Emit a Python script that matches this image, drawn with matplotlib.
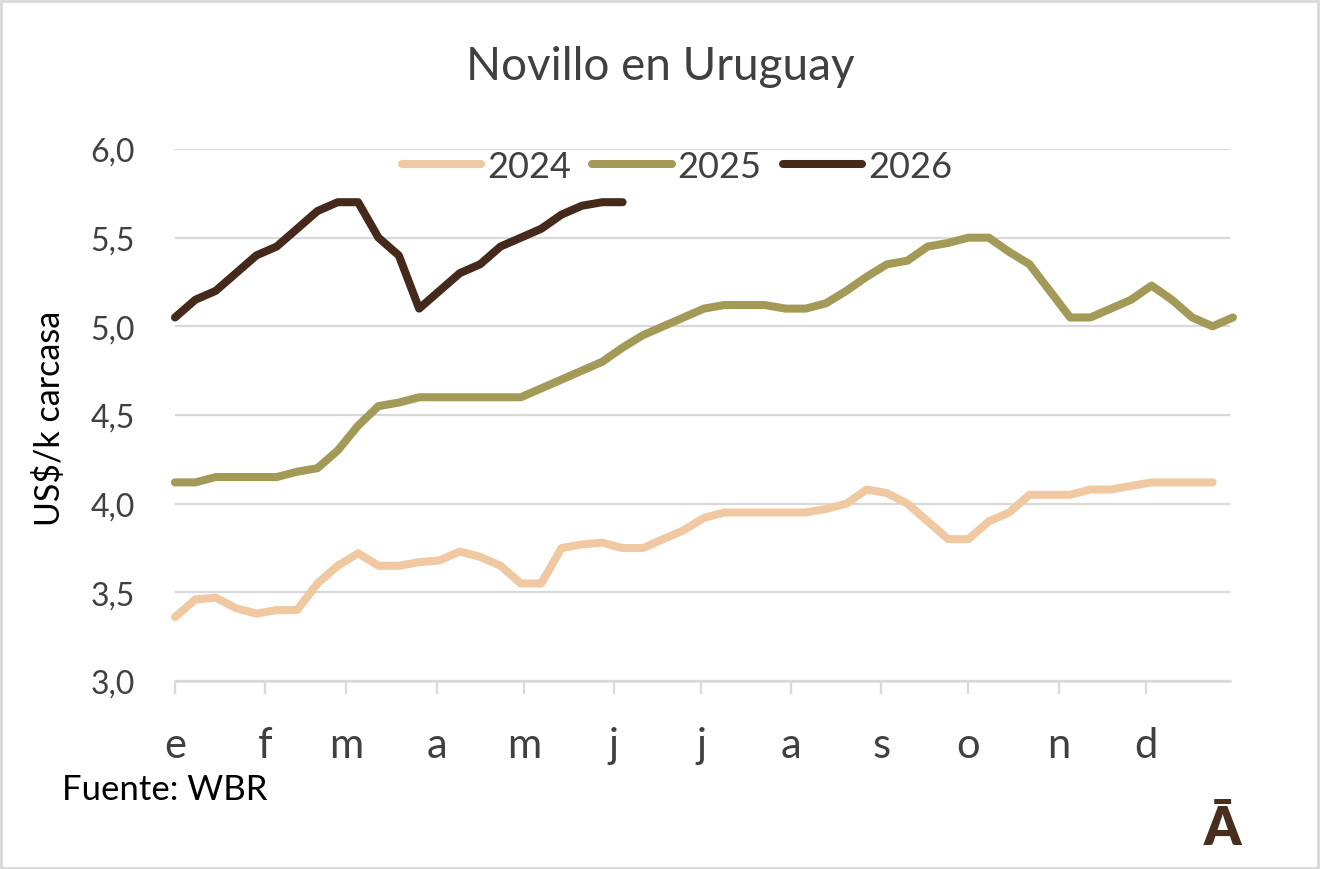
import numpy as np
import matplotlib
matplotlib.use("Agg")
import matplotlib.pyplot as plt
from matplotlib.patches import Rectangle

plt.rcParams['font.family'] = ['Lato', 'DejaVu Sans']

# ---- data ----
month_labels = ['e', 'f', 'm', 'a', 'm', 'j', 'j', 'a', 's', 'o', 'n', 'd']
month_start_day = [0, 31, 59, 90, 120, 151, 181, 212, 243, 273, 304, 334]

v2024 = [3.36, 3.46, 3.47, 3.41, 3.38, 3.40, 3.40, 3.55, 3.65, 3.72,
         3.65, 3.65, 3.67, 3.68, 3.73, 3.70, 3.65, 3.55, 3.55, 3.75,
         3.77, 3.78, 3.75, 3.75, 3.80, 3.85, 3.92, 3.95, 3.95, 3.95,
         3.95, 3.95, 3.97, 4.00, 4.08, 4.06, 4.00, 3.90, 3.80, 3.80,
         3.90, 3.95, 4.05, 4.05, 4.05, 4.08, 4.08, 4.10, 4.12, 4.12,
         4.12, 4.12]
v2025 = [4.12, 4.12, 4.15, 4.15, 4.15, 4.15, 4.18, 4.20, 4.30, 4.44,
         4.55, 4.57, 4.60, 4.60, 4.60, 4.60, 4.60, 4.60, 4.65, 4.70,
         4.75, 4.80, 4.88, 4.95, 5.00, 5.05, 5.10, 5.12, 5.12, 5.12,
         5.10, 5.10, 5.13, 5.20, 5.28, 5.35, 5.37, 5.45, 5.47, 5.50,
         5.50, 5.42, 5.35, 5.20, 5.05, 5.05, 5.10, 5.15, 5.23, 5.15,
         5.05, 5.00, 5.05]
v2026 = [5.05, 5.15, 5.20, 5.30, 5.40, 5.45, 5.55, 5.65, 5.70, 5.70,
         5.50, 5.40, 5.10, 5.20, 5.30, 5.35, 5.45, 5.50, 5.55, 5.63,
         5.68, 5.70, 5.70]
series_names = ['2024', '2025', '2026']
series_values = [v2024, v2025, v2026]
series_colors = ['#F0C9A2', '#A39A57', '#45291A']
y_ticks = [3.0, 3.5, 4.0, 4.5, 5.0, 5.5, 6.0]

W, H = 1320, 870
fig = plt.figure(figsize=(W / 100, H / 100), dpi=100)
ax = fig.add_axes([175 / W, 1 - 682 / H, (1230 - 175) / W, (682 - 150) / H])

for name, vals, col in zip(series_names, series_values, series_colors):
    x = np.arange(len(vals)) * 7
    ax.plot(x, vals, color=col, lw=5.8, label=name, solid_capstyle='round',
            solid_joinstyle='round', clip_on=False, zorder=3)

ax.set_xlim(0, 363)
ax.set_ylim(3.0, 6.0)
ax.set_yticks(y_ticks)
ax.set_yticklabels([f"{t:.1f}".replace('.', ',') for t in y_ticks])
ax.set_xticks(month_start_day)
ax.set_xticklabels(month_labels)

grid_col = '#D9D9D9'
ax.grid(axis='y', color=grid_col, lw=1.6, zorder=0)
for s in ['top', 'right', 'left']:
    ax.spines[s].set_visible(False)
ax.spines['bottom'].set_color(grid_col)
ax.spines['bottom'].set_linewidth(1.8)
ax.tick_params(axis='y', length=0, pad=29, labelsize=23, labelcolor='#404040')
ax.tick_params(axis='x', length=9.5, width=1.6, color=grid_col, pad=23,
               labelsize=30, labelcolor='#404040')

fig.text(50 / W, 1 - 418 / H, 'US$/k carcasa', rotation=90, ha='center',
         va='center', fontsize=24.5, color='#000000')

fig.text(660 / W, 1 - 67 / H, 'Novillo en Uruguay', ha='center', va='center',
         fontsize=33, color='#404040')

leg = fig.legend(loc='center', bbox_to_anchor=(677 / W, 1 - 167 / H), ncol=3,
                 frameon=False, fontsize=26, handlelength=2.2, handletextpad=0.15,
                 columnspacing=0.6, labelcolor='#404040')
for line in leg.get_lines():
    line.set_linewidth(5.8)
    line.set_solid_capstyle('round')

fig.text(62 / W, 1 - 790 / H, 'Fuente: WBR', ha='left', va='center',
         fontsize=25, color='#000000')
fig.text(1222 / W, 1 - 845 / H, 'Ā', ha='center', va='baseline',
         fontsize=38, fontweight='heavy', color='#4A2E1C')

fig.patches.append(Rectangle((1 / W, 1 / H), 1 - 3 / W, 1 - 3 / H,
                             transform=fig.transFigure, fill=False,
                             edgecolor='#D9D9D9', lw=2))

fig.savefig('out.png', dpi=100)
